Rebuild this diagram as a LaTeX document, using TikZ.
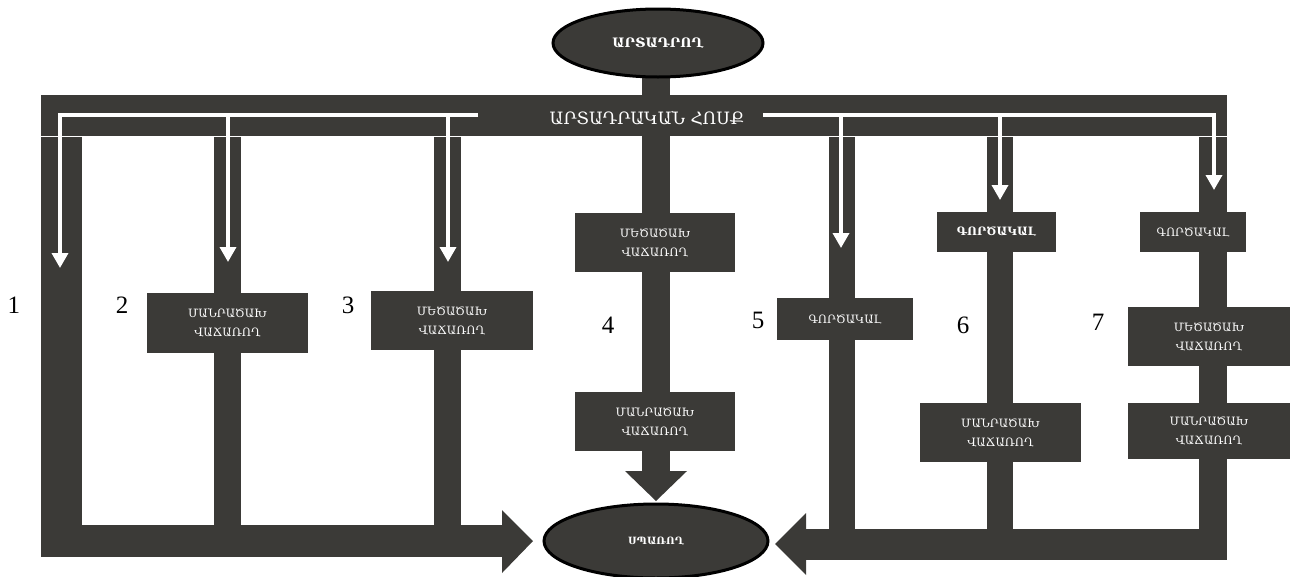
\documentclass[tikz,border=0pt]{standalone}
\usepackage{fontspec}
\setmainfont{Liberation Serif}
\newfontfamily\arm{DejaVu Serif}
\usetikzlibrary{arrows.meta,shapes.geometric}
\definecolor{dk}{HTML}{3B3A37}
\tikzset{
  box/.style={fill=dk, text=white, inner sep=0pt, align=center,
    font=\arm\fontsize{11.5}{19}\selectfont},
  boldbox/.style={box, font=\arm\bfseries\fontsize{11.5}{19}\selectfont},
  oval/.style={ellipse, fill=dk, draw=black, line width=3pt, text=white, inner sep=0pt},
  num/.style={font=\fontsize{25}{25}\selectfont, inner sep=0pt},
  bar/.style={fill=dk},
  warr/.style={draw=white, line width=3.5pt, -{Triangle[width=16pt,length=15pt]}},
}
\begin{document}
\begin{tikzpicture}[x=1pt,y=-1pt]
\useasboundingbox (0,0) rectangle (1298,576);
% main band
\fill[bar] (41,95) rectangle (1227,136);
% column stems
\fill[bar] (41,137) rectangle (82,557);   % col 1
\fill[bar] (214,137) rectangle (241,525); % col 2
\fill[bar] (434,137) rectangle (461,525); % col 3
\fill[bar] (642,60) rectangle (670,392);  % col 4 upper
\fill[bar] (829,137) rectangle (855,529); % col 5
\fill[bar] (987,137) rectangle (1013,529);% col 6
\fill[bar] (1199,137) rectangle (1227,529);% col 7
\node[text=white, font=\arm\fontsize{17}{17}\selectfont] (flow) at (647,118) {ԱՐՏԱԴՐԱԿԱՆ ՀՈՍՔ};
% bottom bands with arrows
\fill[bar] (82,525) rectangle (502,557);
\fill[bar] (502,510) -- (533,541) -- (502,573) -- cycle;
\fill[bar] (806,529) rectangle (1227,560);
\fill[bar] (806,513) -- (775,544) -- (806,575) -- cycle;
\fill[bar] (642,450) rectangle (670,471);
\fill[bar] (625,471) -- (656,501) -- (687,471) -- cycle;
% ovals
\node[oval, minimum width=210pt, minimum height=68pt, font=\arm\bfseries\fontsize{13}{13}\selectfont] (prod) at (658,43) {ԱՐՏԱԴՐՈՂ};
\node[oval, minimum width=224pt, minimum height=74pt, font=\arm\bfseries\fontsize{10}{10}\selectfont] (cons) at (656,541) {ՍՊԱՌՈՂ};
% boxes
\node[box, minimum width=161pt, minimum height=60pt] (r2) at (227.5,323) {ՄԱՆՐԱԾԱԽ\\ՎԱՃԱՌՈՂ};
\node[box, minimum width=162pt, minimum height=59pt] (w3) at (452,320.5) {ՄԵԾԱԾԱԽ\\ՎԱՃԱՌՈՂ};
\node[box, minimum width=160pt, minimum height=59pt] (w4) at (655,242.5) {ՄԵԾԱԾԱԽ\\ՎԱՃԱՌՈՂ};
\node[box, minimum width=160pt, minimum height=59pt] (r4) at (655,421.5) {ՄԱՆՐԱԾԱԽ\\ՎԱՃԱՌՈՂ};
\node[box, minimum width=136pt, minimum height=42pt] (a5) at (845,319) {ԳՈՐԾԱԿԱԼ};
\node[boldbox, minimum width=119pt, minimum height=40pt] (a6) at (996.5,232) {ԳՈՐԾԱԿԱԼ};
\node[box, minimum width=161pt, minimum height=59pt] (r6) at (1000.5,432.5) {ՄԱՆՐԱԾԱԽ\\ՎԱՃԱՌՈՂ};
\node[box, minimum width=106pt, minimum height=40pt] (a7) at (1193,232) {ԳՈՐԾԱԿԱԼ};
\node[box, minimum width=162pt, minimum height=59pt] (w7) at (1209,336.5) {ՄԵԾԱԾԱԽ\\ՎԱՃԱՌՈՂ};
\node[box, minimum width=162pt, minimum height=56pt] (r7) at (1209,431) {ՄԱՆՐԱԾԱԽ\\ՎԱՃԱՌՈՂ};
% numbers
\node[num] (n1) at (14,305) {1};
\node[num] (n2) at (122,305) {2};
\node[num] (n3) at (348,305) {3};
\node[num] (n4) at (608,325) {4};
\node[num] (n5) at (758,320) {5};
\node[num] (n6) at (963,325) {6};
\node[num] (n7) at (1098,322) {7};
% white flow arrows
\coordinate (ls) at (478,115);
\coordinate (rs) at (763,115);
\draw[warr] (ls) -| (60,268);
\draw[warr] (228,115) -- (228,262);
\draw[warr] (448,115) -- (448,262);
\draw[warr] (rs) -| (1214,190);
\draw[warr] (841,115) -- (841,248);
\draw[warr] (1000,115) -- (1000,200);
\end{tikzpicture}
\end{document}
